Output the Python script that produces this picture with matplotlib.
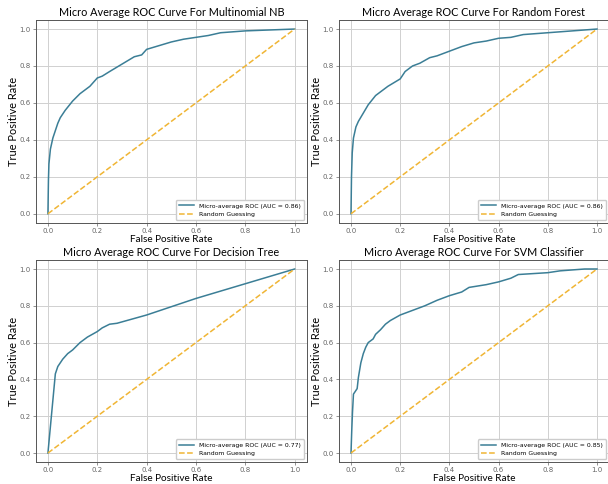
import numpy as np
import matplotlib
matplotlib.use('Agg')
import matplotlib.pyplot as plt

# ROC points (fpr, tpr)
nb_fpr = [0.0, 0.002, 0.004, 0.01, 0.02, 0.03, 0.04, 0.05, 0.07, 0.1, 0.13, 0.17, 0.2, 0.22, 0.25,
          0.3, 0.35, 0.38, 0.4, 0.45, 0.5, 0.55, 0.6, 0.65, 0.7, 0.8, 0.9, 1.0]
nb_tpr = [0.0, 0.18, 0.27, 0.35, 0.41, 0.45, 0.49, 0.52, 0.56, 0.61, 0.65, 0.69, 0.735, 0.745, 0.77,
          0.81, 0.85, 0.86, 0.89, 0.91, 0.93, 0.945, 0.955, 0.965, 0.98, 0.99, 0.995, 1.0]

rf_fpr = [0.0, 0.002, 0.005, 0.01, 0.02, 0.03, 0.05, 0.07, 0.1, 0.15, 0.2, 0.22, 0.25, 0.28,
          0.32, 0.35, 0.4, 0.45, 0.5, 0.55, 0.6, 0.65, 0.7, 0.8, 0.9, 1.0]
rf_tpr = [0.0, 0.2, 0.33, 0.41, 0.47, 0.5, 0.545, 0.59, 0.64, 0.69, 0.73, 0.77, 0.8, 0.815,
          0.845, 0.855, 0.88, 0.905, 0.925, 0.935, 0.95, 0.955, 0.97, 0.98, 0.99, 1.0]

dt_fpr = [0.0, 0.03, 0.04, 0.06, 0.08, 0.1, 0.13, 0.16, 0.2, 0.22, 0.25, 0.28, 0.4, 0.6, 0.8, 1.0]
dt_tpr = [0.0, 0.43, 0.47, 0.51, 0.54, 0.56, 0.6, 0.63, 0.66, 0.68, 0.70, 0.705, 0.75, 0.84, 0.92, 1.0]

svm_fpr = [0.0, 0.003, 0.006, 0.01, 0.02, 0.025, 0.03, 0.04, 0.05, 0.06, 0.07, 0.09, 0.1, 0.12,
           0.14, 0.16, 0.2, 0.25, 0.3, 0.35, 0.4, 0.45, 0.48, 0.55, 0.6, 0.65, 0.68, 0.8, 0.85,
           0.95, 1.0]
svm_tpr = [0.0, 0.12, 0.22, 0.32, 0.34, 0.35, 0.41, 0.49, 0.54, 0.575, 0.6, 0.62, 0.645, 0.67,
           0.70, 0.72, 0.75, 0.775, 0.80, 0.83, 0.855, 0.875, 0.90, 0.915, 0.93, 0.95, 0.97, 0.98,
           0.99, 1.0, 1.0]

titles = ['Micro Average ROC Curve For Multinomial NB',
          'Micro Average ROC Curve For Random Forest',
          'Micro Average ROC Curve For Decision Tree',
          'Micro Average ROC Curve For SVM Classifier']
aucs = [0.86, 0.86, 0.77, 0.85]
curves = [(nb_fpr, nb_tpr), (rf_fpr, rf_tpr), (dt_fpr, dt_tpr), (svm_fpr, svm_tpr)]

W, H = 608, 484
# axes boxes in pixels: left, top, right, bottom
boxes = [(35.6, 19.8, 307, 223), (338.7, 19.8, 609.3, 223),
         (35.6, 259.8, 307, 462.2), (338.7, 259.8, 609.3, 462.2)]

fig = plt.figure(figsize=(W / 100, H / 100), dpi=100)
lab_font = 'Lato'

for i in range(4):
    l, t, r, b = boxes[i]
    ax = fig.add_axes([l / W, 1 - b / H, (r - l) / W, (b - t) / H])
    fpr, tpr = curves[i]
    ax.plot(fpr, tpr, color='#3b7e96', lw=1.1,
            label='Micro-average ROC (AUC = %.2f)' % aucs[i])
    ax.plot([0, 1], [0, 1], color='#f0b534', lw=1.1, ls='--', label='Random Guessing')
    ax.grid(True, color='#d0d0d0', lw=0.7)
    ax.set_xticks(np.arange(0, 1.01, 0.2))
    ax.set_yticks(np.arange(0, 1.01, 0.2))
    ax.tick_params(labelsize=5, length=2, width=0.5, pad=1.5, colors='#666666')
    for s in ax.spines.values():
        s.set_color('#555555')
        s.set_linewidth(0.7)
    ax.set_title(titles[i], fontsize=7.8, family=lab_font, pad=3)
    ax.set_xlabel('False Positive Rate', fontsize=7.2, family=lab_font, labelpad=0.5)
    ax.set_ylabel('True Positive Rate', fontsize=7.9, family=lab_font, labelpad=0.5)
    ax.legend(loc='lower right', fontsize=4.4, frameon=True, framealpha=1,
              edgecolor='#cccccc', fancybox=True, borderpad=0.5, handlelength=2.5)

fig.savefig('out.png', dpi=100)
